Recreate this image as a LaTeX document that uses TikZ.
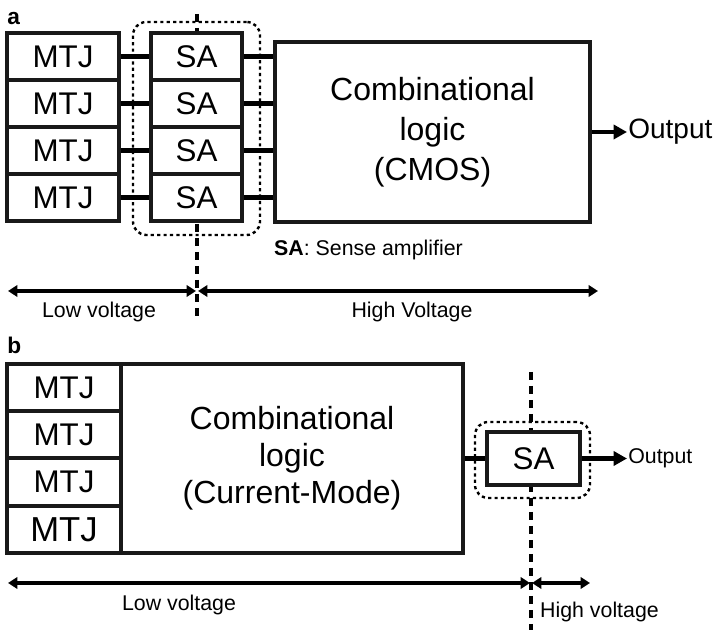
\documentclass[tikz,border=0pt]{standalone}
\usepackage{fontspec}
\setmainfont{Liberation Sans}
\usetikzlibrary{arrows.meta}
\begin{document}
\begin{tikzpicture}[x=0.75pt,y=-0.75pt,
  blk/.style={draw=black!90, line width=2.9pt, fill=white, inner sep=0pt, font=\fontsize{23.5}{27}\selectfont},
  wire/.style={line width=3.4pt},
  outarrow/.style={line width=3.6pt, -{Triangle[length=10pt,width=10.5pt]}},
  span/.style={line width=3.4pt, {Triangle[length=7pt,width=8.5pt]}-{Triangle[length=7pt,width=8.5pt]}},
  vdash/.style={line width=2.6pt, dash pattern=on 6pt off 4.5pt},
  grp/.style={draw, line width=1.8pt, dash pattern=on 2.4pt off 2.4pt, rounded corners=10pt, inner sep=0pt},
  lbl/.style={inner sep=0pt, font=\fontsize{16}{19}\selectfont},
  tag/.style={inner sep=0pt, font=\bfseries\fontsize{17}{20}\selectfont},
  comb/.style={blk, align=center},
  mtjA/.style={blk, minimum width=84pt, minimum height=35.25pt},
  saA/.style={blk, minimum width=68.25pt, minimum height=35.25pt},
  mtjB/.style={blk, minimum width=85.5pt, minimum height=35.25pt}
]
\useasboundingbox[fill=white] (0,0) rectangle (715,630);

% ---------------- (a) ----------------
\node[tag, anchor=base west] (ta) at (7,25) {a};
\coordinate (dA1) at (197,14);
\coordinate (dA2) at (197,318);
\draw[vdash] (dA1) -- (dA2);
\node[grp, minimum width=95.25pt, minimum height=159.75pt] (grpA) at (196.5,128.5) {};

\node[mtjA] (m1) at (63,56.5) {MTJ};
\node[mtjA] (m2) at (63,103.5) {MTJ};
\node[mtjA] (m3) at (63,150.5) {MTJ};
\node[mtjA] (m4) at (63,197.5) {MTJ};
\node[saA] (s1) at (196.5,56.5) {SA};
\node[saA] (s2) at (196.5,103.5) {SA};
\node[saA] (s3) at (196.5,150.5) {SA};
\node[saA] (s4) at (196.5,197.5) {SA};
\node[comb, minimum width=236.25pt, minimum height=135pt,
      font=\fontsize{24}{30}\selectfont] (cA) at (432.5,132)
      {Combinational\\logic\\(CMOS)};
\node[inner sep=0.8pt, anchor=west, font=\fontsize{21}{24}\selectfont] (oA) at (627,132) {Output};

\foreach \i in {1,...,4}{
  \draw[wire] (m\i) -- (s\i);
  \draw[wire] (s\i.east) -- (s\i.east -| cA.west);
}
\draw[outarrow] (cA.east |- oA.west) -- (oA.west);

\node[lbl] (sa) at (368.5,250) {\textbf{SA}: Sense amplifier};
\coordinate (aL1) at (8,291);
\coordinate (aL2) at (196,291);
\coordinate (aR1) at (198,291);
\coordinate (aR2) at (598,291);
\draw[span] (aL1) -- (aL2);
\draw[span] (aR1) -- (aR2);
\node[lbl] (lvA) at (99,312) {Low voltage};
\node[lbl] (hvA) at (412,312) {High Voltage};

% ---------------- (b) ----------------
\node[tag, anchor=base west] (tb) at (7,354) {b};
\coordinate (dB1) at (531,372);
\coordinate (dB2) at (531,632);
\draw[vdash] (dB1) -- (dB2);
\node[grp, minimum width=86.25pt, minimum height=57pt] (grpB) at (532.5,460) {};

\node[mtjB] (n1) at (64,387.5) {MTJ};
\node[mtjB] (n2) at (64,434.5) {MTJ};
\node[mtjB] (n3) at (64,482) {MTJ};
\node[mtjB, font=\fontsize{26}{29}\selectfont] (n4) at (64,529.5) {MTJ};
\node[comb, minimum width=256.5pt, minimum height=141.75pt,
      font=\fontsize{24}{27.75}\selectfont] (cB) at (292,458.5)
      {Combinational\\logic\\(Current-Mode)};
\node[blk, minimum width=69.75pt, minimum height=39.75pt] (sB) at (533.5,458.5) {SA};
\node[inner sep=0.8pt, anchor=west, font=\fontsize{16}{19}\selectfont] (oB) at (627,458.5) {Output};
\draw[wire] (cB.east) -- (sB.west);
\draw[outarrow] (sB.east) -- (oB.west);

\coordinate (bL1) at (8,583);
\coordinate (bL2) at (530,583);
\coordinate (bR1) at (532,583);
\coordinate (bR2) at (590,583);
\draw[span] (bL1) -- (bL2);
\draw[span] (bR1) -- (bR2);
\node[lbl] (lvB) at (179,605) {Low voltage};
\node[lbl] (hvB) at (599.5,612) {High voltage};
\end{tikzpicture}
\end{document}
